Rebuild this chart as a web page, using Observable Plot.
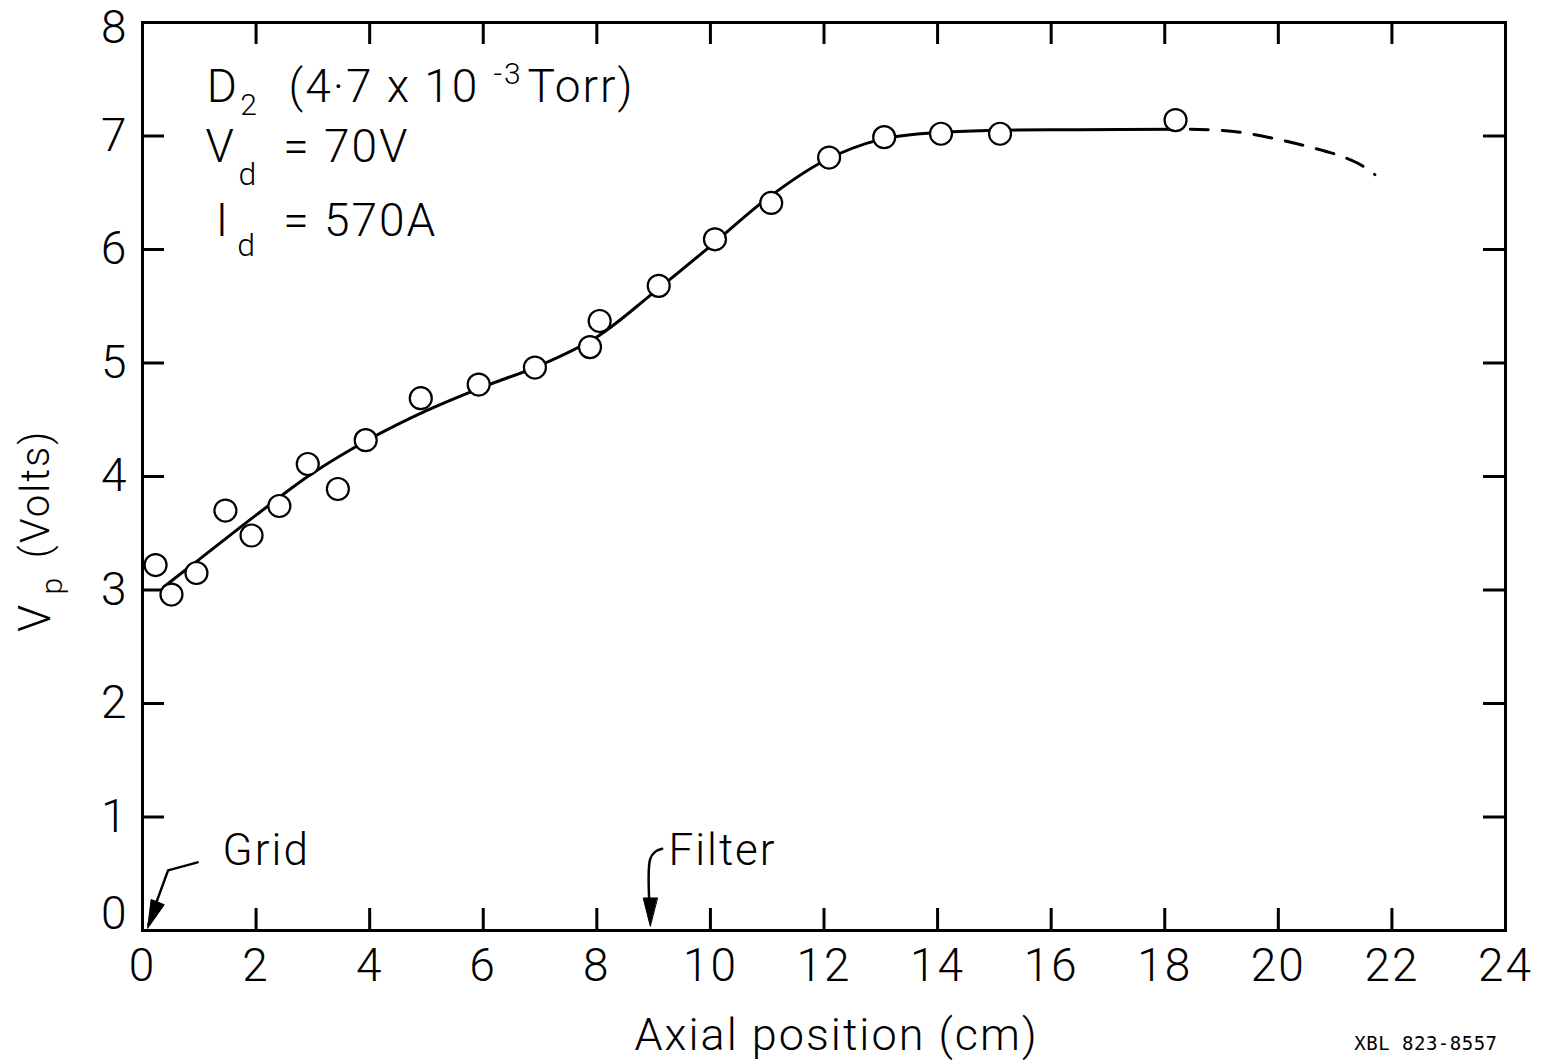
<!DOCTYPE html>
<html>
<head>
<meta charset="utf-8">
<script src="https://cdn.jsdelivr.net/npm/d3@7"></script>
<script src="https://cdn.jsdelivr.net/npm/@observablehq/plot@0.6"></script>
<style>
  html, body { margin: 0; padding: 0; background: #fff; }
  svg text { letter-spacing: 2px; }
  svg g[font-family*="Mono"] text { letter-spacing: 0.5px; }
</style>
</head>
<body>
<div id="chart"></div>
<script>
// ---- data ----
const xTicks = [0, 2, 4, 6, 8, 10, 12, 14, 16, 18, 20, 22, 24];
const yTicks = [1, 2, 3, 4, 5, 6, 7];
const yTopTick = [8];
const yZeroTick = [0];
const innerXTicks = [2, 4, 6, 8, 10, 12, 14, 16, 18, 20, 22];
const innerYTicks = [1, 2, 3, 4, 5, 6, 7];

// measured points: axial position (cm) and Vp (Volts)
const posX = [0.23, 0.51, 0.95, 1.46, 1.92, 2.41, 2.91, 3.44, 3.93, 4.90, 5.92, 6.91, 7.88, 8.05, 9.09, 10.08, 11.07, 12.09, 13.06, 14.06, 15.10, 18.19];
const vp   = [3.22, 2.96, 3.15, 3.70, 3.48, 3.74, 4.11, 3.89, 4.32, 4.69, 4.81, 4.96, 5.14, 5.37, 5.68, 6.09, 6.41, 6.81, 6.99, 7.02, 7.02, 7.14];

// hand-drawn fit curve (solid) and extrapolation (dashed)
const fitX = [0.38, 1.0, 2.0, 3.0, 4.0, 5.0, 6.0, 7.0, 8.0, 9.0, 10.0, 11.0, 12.0, 13.0, 14.0, 15.0, 16.5, 18.2];
const fitY = [3.03, 3.27, 3.66, 4.03, 4.33, 4.58, 4.79, 4.98, 5.23, 5.62, 6.03, 6.45, 6.78, 6.97, 7.03, 7.05, 7.055, 7.06];
const extX = [18.45, 19.0, 19.5, 20.0, 20.5, 21.0, 21.4, 21.7];
const extY = [7.06, 7.05, 7.02, 6.97, 6.91, 6.84, 6.76, 6.66];

// annotation texts
const noteText = ["D", "2", "(4·7 x 10", "-3", "Torr)", "V", "d", "= 70V", "I", "d", "= 570A"];
const noteX    = [1.13, 1.72, 2.57, 6.18, 6.78, 1.11, 1.69, 2.48, 1.29, 1.67, 2.48];
const noteY    = [7.43, 7.27, 7.43, 7.54, 7.43, 6.90, 6.66, 6.90, 6.25, 6.03, 6.25];
const noteSize = [46, 30, 46, 30, 46, 46, 32, 46, 46, 32, 46];

const markerText = ["Grid", "Filter"];
const markerX = [1.41, 9.26];
const markerY = [0.70, 0.70];

const gridShaftX = [0.97, 0.45, 0.10];
const gridShaftY = [0.60, 0.53, 0.05];
const filterShaftX = [9.15, 9.03, 8.94, 8.94];
const filterShaftY = [0.72, 0.695, 0.63, 0.1];
const arrowTipX = [0.09, 8.94];
const arrowTipY = [0.02, 0.04];
const arrowAngle = [21, 0];

// ---- build ----
const W = 1541, H = 1063;
const mL = 142, mR = 36, mT = 22, mB = 133;
const plotW = W - mL - mR, plotH = H - mT - mB;
const tickLen = 22;

const points = posX.map((x, i) => ({x, y: vp[i]}));
const fit = fitX.map((x, i) => ({x, y: fitY[i]}));
const ext = extX.map((x, i) => ({x, y: extY[i]}));
const notes = noteText.map((t, i) => ({t, x: noteX[i], y: noteY[i], s: noteSize[i]}));
const markers = markerText.map((t, i) => ({t, x: markerX[i], y: markerY[i]}));
const gridShaft = gridShaftX.map((x, i) => ({x, y: gridShaftY[i]}));
const filterShaft = filterShaftX.map((x, i) => ({x, y: filterShaftY[i]}));
const tips = arrowTipX.map((x, i) => ({x, y: arrowTipY[i], a: arrowAngle[i]}));

const arrowHead = {
  draw(ctx, l, r) {
    ctx.moveTo(0, 0);
    ctx.lineTo(-7, -l);
    ctx.lineTo(7, -l);
    ctx.closePath();
  }
};

const font = "Roboto, 'Open Sans', 'DejaVu Sans', sans-serif";
const yAxisOpts = {tickSize: 0, tickPadding: 14, fontSize: 46, label: null, tickFormat: d => String(d)};

const chart = Plot.plot({
  width: W, height: H,
  marginLeft: mL, marginRight: mR, marginTop: mT, marginBottom: mB,
  x: {domain: [0, 24]},
  y: {domain: [0, 8]},
  style: {fontFamily: font, fontWeight: 300, background: "white", color: "black", overflow: "visible"},
  marks: [
    Plot.axisX({ticks: xTicks, tickSize: 0, tickPadding: 18, fontSize: 46, label: null, tickFormat: d => String(d)}),
    Plot.axisY({ticks: yTicks, ...yAxisOpts}),
    Plot.axisY({ticks: yTopTick, ...yAxisOpts, dy: 6}),
    Plot.axisY({ticks: yZeroTick, ...yAxisOpts, dy: -16}),
    Plot.tickX(innerXTicks, {x: d => d, insetTop: plotH - tickLen, stroke: "black", strokeWidth: 3}),
    Plot.tickX(innerXTicks, {x: d => d, insetBottom: plotH - tickLen, stroke: "black", strokeWidth: 3}),
    Plot.tickY(innerYTicks, {y: d => d, insetRight: plotW - tickLen, stroke: "black", strokeWidth: 3}),
    Plot.tickY(innerYTicks, {y: d => d, insetLeft: plotW - tickLen, stroke: "black", strokeWidth: 3}),
    Plot.frame({stroke: "black", strokeWidth: 3}),
    Plot.line(fit, {x: "x", y: "y", curve: "catmull-rom", stroke: "black", strokeWidth: 3}),
    Plot.line(ext, {x: "x", y: "y", curve: "catmull-rom", stroke: "black", strokeWidth: 3, strokeDasharray: "18,14"}),
    Plot.dot(points, {x: "x", y: "y", r: 11, fill: "white", stroke: "black", strokeWidth: 2.2}),
    Plot.text(notes, {x: "x", y: "y", text: "t", fontSize: "s", textAnchor: "start", lineAnchor: "middle", fill: "black"}),
    Plot.text(markers, {x: "x", y: "y", text: "t", fontSize: 44, textAnchor: "start", lineAnchor: "middle", fill: "black"}),
    Plot.line(gridShaft, {x: "x", y: "y", stroke: "black", strokeWidth: 2.5}),
    Plot.line(filterShaft, {x: "x", y: "y", curve: "catmull-rom", stroke: "black", strokeWidth: 2.5}),
    Plot.vector(tips, {x: "x", y: "y", rotate: "a", length: 28, anchor: "start", shape: arrowHead, fill: "black", stroke: "black", strokeWidth: 1}),
    // axis titles
    Plot.text(["Axial position (cm)"], {x: 12.22, y: -0.93, text: d => d, fontSize: 45, textAnchor: "middle", lineAnchor: "middle", fill: "black", dx: 0}),
    Plot.text(["V"], {x: -1.87, y: 2.63, text: d => d, rotate: -90, fontSize: 44, textAnchor: "start", lineAnchor: "middle", fill: "black"}),
    Plot.text(["p"], {x: -1.58, y: 2.96, text: d => d, rotate: -90, fontSize: 30, textAnchor: "start", lineAnchor: "middle", fill: "black"}),
    Plot.text(["(Volts)"], {x: -1.87, y: 3.28, text: d => d, rotate: -90, fontSize: 40, textAnchor: "start", lineAnchor: "middle", fill: "black"}),
    Plot.text(["XBL 823-8557"], {x: 23.86, y: -1.0, text: d => d, fontSize: 19, fontFamily: "'DejaVu Sans Mono', monospace", fontWeight: 400, textAnchor: "end", lineAnchor: "middle", fill: "black"})
  ]
});
document.getElementById("chart").appendChild(chart);
</script>
</body>
</html>
